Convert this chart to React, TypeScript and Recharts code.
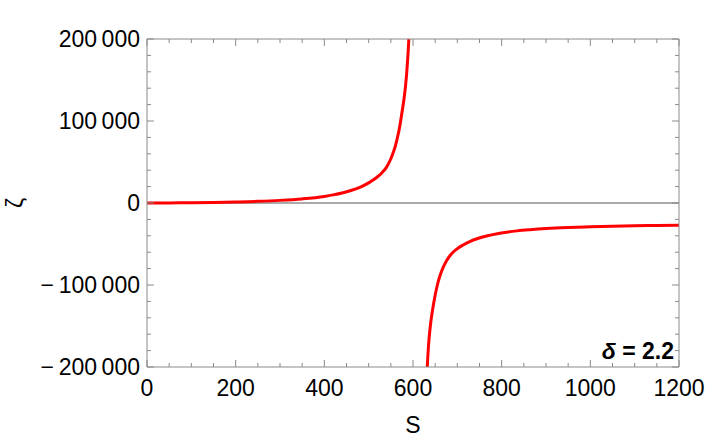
import React from 'react';
import { LineChart, Line, XAxis, YAxis, ReferenceLine, Label } from 'recharts';

// S values and zeta values, left branch (before the pole)
const leftS = [0, 50, 100, 150, 200, 250, 300, 350, 400, 420, 440, 460, 480, 500, 510, 520, 530, 540, 550, 555, 560, 565, 570, 575, 580, 583, 586, 589, 591, 593, 595];
const leftZeta = [0, 100, 300, 650, 1200, 2000, 3200, 5000, 8000, 9900, 12200, 15200, 19100, 24500, 28000, 32000, 37000, 43500, 54000, 61000, 69000, 80000, 93000, 110000, 128000, 142000, 160000, 184000, 204000, 230000, 262000];

// right branch (after the pole)
const rightS = [630, 632, 634, 636, 638, 640, 642, 645, 650, 655, 661, 668, 676, 686, 698, 712, 728, 746, 766, 790, 811, 835, 864, 900, 950, 1000, 1050, 1100, 1150, 1200];
const rightZeta = [-228000, -202000, -182000, -167000, -155500, -146000, -138000, -127500, -112500, -100000, -88500, -78500, -70000, -62500, -56500, -51500, -47000, -43300, -40200, -37400, -35600, -34000, -32600, -31200, -29900, -29000, -28300, -27800, -27400, -27100];

const xTicks = [0, 50, 100, 150, 200, 250, 300, 350, 400, 450, 500, 550, 600, 650, 700, 750, 800, 850, 900, 950, 1000, 1050, 1100, 1150, 1200];
const xLabelTicks = [0, 200, 400, 600, 800, 1000, 1200];
const yTicks = [-200000, -180000, -160000, -140000, -120000, -100000, -80000, -60000, -40000, -20000, 0, 20000, 40000, 60000, 80000, 100000, 120000, 140000, 160000, 180000, 200000];
const yLabelTicks = [-200000, -100000, 0, 100000, 200000];

const xTitle = 'S';
const yTitle = 'ζ';
const annotation = 'δ = 2.2';

const leftData = leftS.map((s, i) => ({ s, z: leftZeta[i] }));
const rightData = rightS.map((s, i) => ({ s, z: rightZeta[i] }));

const FRAME = '#8a8a8a';
const FONT = '"Liberation Sans", Arial, sans-serif';
const MAJOR = 7;
const MINOR = 4;
const FS = 23;

const fmtY = (v: number) => {
  const a = Math.abs(v);
  let str = String(a);
  if (a >= 1000) {
    str = str.slice(0, str.length - 3) + '\u2009' + str.slice(str.length - 3);
  }
  return v < 0 ? '\u2212\u2009' + str : str;
};

const BottomTick = (props: any) => {
  const { x, y, payload } = props;
  const major = xLabelTicks.includes(payload.value);
  return (
    <g>
      <line x1={x} x2={x} y1={y} y2={y - (major ? MAJOR : MINOR)} stroke={FRAME} strokeWidth={1} />
      {major && (
        <text x={x} y={y + 29} textAnchor="middle" fontSize={FS} fontFamily={FONT} fill="#000">
          {payload.value}
        </text>
      )}
    </g>
  );
};

const TopTick = (props: any) => {
  const { x, y, payload } = props;
  const major = xLabelTicks.includes(payload.value);
  return <line x1={x} x2={x} y1={y} y2={y + (major ? MAJOR : MINOR)} stroke={FRAME} strokeWidth={1} />;
};

const LeftTick = (props: any) => {
  const { x, y, payload } = props;
  const major = yLabelTicks.includes(payload.value);
  return (
    <g>
      <line x1={x} x2={x + (major ? MAJOR : MINOR)} y1={y} y2={y} stroke={FRAME} strokeWidth={1} />
      {major && (
        <text x={x - 7} y={y + 8} textAnchor="end" fontSize={FS} fontFamily={FONT} fill="#000">
          {fmtY(payload.value)}
        </text>
      )}
    </g>
  );
};

const RightTick = (props: any) => {
  const { x, y, payload } = props;
  const major = yLabelTicks.includes(payload.value);
  return <line x1={x} x2={x - (major ? MAJOR : MINOR)} y1={y} y2={y} stroke={FRAME} strokeWidth={1} />;
};

export default function App() {
  return (
    <div style={{ position: 'fixed', left: 0, top: 0, width: 718, height: 441, background: '#fff' }}>
      <LineChart width={718} height={441} margin={{ top: 38, right: 38, left: 0, bottom: 0 }}>
        <XAxis
          xAxisId={0}
          type="number"
          dataKey="s"
          domain={[0, 1200]}
          ticks={xTicks}
          interval={0}
          allowDataOverflow
          height={74}
          tickSize={0}
          tickMargin={0}
          tickLine={false}
          axisLine={{ stroke: FRAME, strokeWidth: 1 }}
          tick={(p: any) => <BottomTick {...p} />}
        >
          <Label
            content={(p: any) => {
              const vb = p.viewBox;
              return (
                <text x={vb.x + vb.width / 2} y={vb.y + 66} textAnchor="middle" fontSize={FS} fontFamily={FONT} fill="#000">
                  {xTitle}
                </text>
              );
            }}
          />
        </XAxis>
        <XAxis
          xAxisId="top"
          orientation="top"
          type="number"
          dataKey="s"
          domain={[0, 1200]}
          ticks={xTicks}
          interval={0}
          allowDataOverflow
          height={1}
          tickSize={0}
          tickMargin={0}
          tickLine={false}
          axisLine={{ stroke: FRAME, strokeWidth: 1 }}
          tick={(p: any) => <TopTick {...p} />}
        />
        <YAxis
          yAxisId={0}
          type="number"
          domain={[-200000, 200000]}
          ticks={yTicks}
          interval={0}
          allowDataOverflow
          width={147}
          tickSize={0}
          tickMargin={0}
          tickLine={false}
          axisLine={{ stroke: FRAME, strokeWidth: 1 }}
          tick={(p: any) => <LeftTick {...p} />}
        >
          <Label
            content={(p: any) => {
              const vb = p.viewBox;
              const cx = vb.x + 15;
              const cy = vb.y + vb.height / 2;
              return (
                <text
                  x={cx}
                  y={cy}
                  transform={`rotate(-90 ${cx} ${cy})`}
                  textAnchor="middle"
                  dominantBaseline="central"
                  fontSize={FS}
                  fontFamily={FONT}
                  fill="#000"
                >
                  {yTitle}
                </text>
              );
            }}
          />
        </YAxis>
        <YAxis
          yAxisId="right"
          orientation="right"
          type="number"
          domain={[-200000, 200000]}
          ticks={yTicks}
          interval={0}
          allowDataOverflow
          width={1}
          tickSize={0}
          tickMargin={0}
          tickLine={false}
          axisLine={{ stroke: FRAME, strokeWidth: 1 }}
          tick={(p: any) => <RightTick {...p} />}
        />
        <ReferenceLine y={0} xAxisId={0} yAxisId={0} stroke="#555" strokeWidth={1} />
        <Line
          data={leftData}
          xAxisId={0}
          yAxisId={0}
          dataKey="z"
          type="monotone"
          stroke="#ff0000"
          strokeWidth={3}
          dot={false}
          activeDot={false}
          isAnimationActive={false}
        />
        <Line
          data={rightData}
          xAxisId={0}
          yAxisId={0}
          dataKey="z"
          type="monotone"
          stroke="#ff0000"
          strokeWidth={3}
          dot={false}
          activeDot={false}
          isAnimationActive={false}
        />
      </LineChart>
      <div
        style={{
          position: 'absolute',
          right: 44,
          top: 340,
          fontFamily: FONT,
          fontWeight: 'bold',
          fontSize: 23,
          lineHeight: 1,
          color: '#000',
          whiteSpace: 'nowrap',
        }}
      >
        <i>δ</i>
        {annotation.slice(1)}
      </div>
    </div>
  );
}
